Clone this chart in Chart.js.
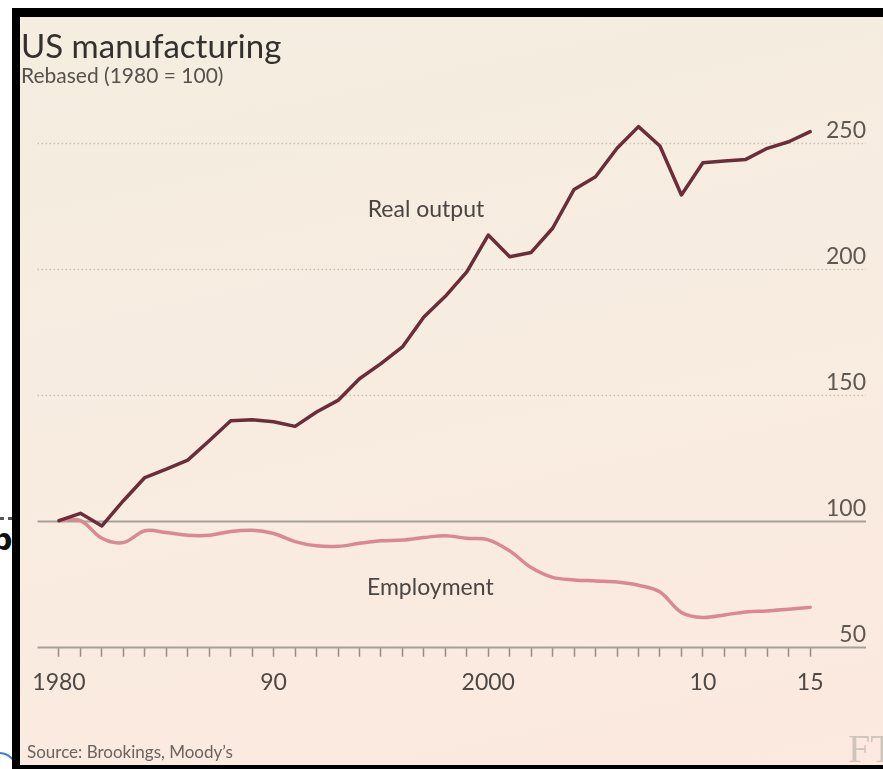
<!DOCTYPE html>
<html>
<head>
<meta charset="utf-8">
<title>US manufacturing</title>
<script src="https://cdn.jsdelivr.net/npm/chart.js@4.4.1/dist/chart.umd.min.js"></script>
<style>
  html, body { margin: 0; padding: 0; background: #fff; overflow: hidden; }
  body { width: 883px; height: 769px; position: relative; }
  #frame { position: absolute; left: 12px; top: 8px; width: 871px; height: 761px; background: #000; }
  #panel {
    position: absolute; left: 8px; top: 9px; width: 863px; height: 748px;
    background: linear-gradient(168deg, #f4ede0 0%, #f8ece1 50%, #fce9df 100%);
  }
  #chart { position: absolute; left: 0; top: 0; }
  /* bits of the page behind the frame */
  #behind { position: absolute; left: -9px; top: 522px; font: bold 30px 'DejaVu Sans', sans-serif; color: #111; }
  #dots { position: absolute; left: 0; top: 517px; width: 12px; border-top: 3px dotted #555; }
  #arc { position: absolute; left: -20px; top: 752px; width: 34px; height: 34px; border-radius: 50%; border: 2px solid #3d7fd6; }
</style>
</head>
<body>
<div id="dots"></div>
<div id="behind">b</div>
<div id="arc"></div>
<div id="frame">
  <div id="panel">
    <canvas id="chart" width="863" height="748"></canvas>
  </div>
</div>

<script>
// Years on the x axis
const years = [1980, 1981, 1982, 1983, 1984, 1985, 1986, 1987, 1988, 1989,
               1990, 1991, 1992, 1993, 1994, 1995, 1996, 1997, 1998, 1999,
               2000, 2001, 2002, 2003, 2004, 2005, 2006, 2007, 2008, 2009,
               2010, 2011, 2012, 2013, 2014, 2015];

// Index values, 1980 = 100
const realOutput = [100, 102.9, 97.9, 107.9, 117.1, 120.4, 124, 131.7, 139.6, 140,
                    139.2, 137.4, 143.1, 147.7, 156.3, 162.3, 168.9, 180.8, 189, 198.7,
                    213.3, 204.7, 206.4, 216, 231.4, 236.4, 247.7, 256.3, 248.6, 229.2,
                    242, 242.7, 243.3, 247.7, 250.3, 254.3];
const employment = [100, 100, 93, 91.3, 96, 95.3, 94.2, 94.2, 95.7, 96.2,
                    94.9, 91.7, 90, 89.8, 91, 92, 92.3, 93.3, 94, 93,
                    92.4, 88, 81.4, 77.5, 76.5, 76.1, 75.7, 74.4, 71.7, 63.6,
                    61.6, 62.6, 63.8, 64.2, 64.9, 65.6];

const seriesNames = ["Real output", "Employment"];

// Axis labels
const xTickYears = [1980, 1990, 2000, 2010, 2015];
const xTickLabels = ["1980", "90", "2000", "10", "15"];
const yTicks = [50, 100, 150, 200, 250];

const FONT = "Lato, 'Open Sans', sans-serif";

function toPoints(values) {
  return years.map((yr, i) => ({ x: yr, y: values[i] }));
}

// gridlines, value labels, series names and the header/footer text
const ftDecor = {
  id: "ftDecor",
  beforeDatasetsDraw(chart) {
    const { ctx, chartArea, scales } = chart;
    ctx.save();
    yTicks.forEach(v => {
      const y = Math.round(scales.y.getPixelForValue(v)) + 0.5;
      ctx.beginPath();
      if (v > 100) {
        ctx.setLineDash([1.5, 2.5]);
        ctx.lineWidth = 1.5;
        ctx.strokeStyle = "#c8bfb5";
      } else {
        ctx.setLineDash([]);
        ctx.lineWidth = 2;
        ctx.strokeStyle = "#a6a097";
      }
      ctx.moveTo(chartArea.left, y);
      ctx.lineTo(chartArea.right, y);
      ctx.stroke();

      ctx.font = "23px " + FONT;
      ctx.fillStyle = "#5e5853";
      ctx.textAlign = "right";
      ctx.textBaseline = "alphabetic";
      ctx.fillText(String(v), chartArea.right, y - 6);
    });
    ctx.restore();
  },
  afterDatasetsDraw(chart) {
    const { ctx, scales } = chart;
    ctx.save();
    ctx.font = "23px " + FONT;
    ctx.fillStyle = "#4a4542";
    ctx.textAlign = "center";
    ctx.textBaseline = "middle";
    ctx.fillText(seriesNames[0], scales.x.getPixelForValue(1997.1), scales.y.getPixelForValue(223.2));
    ctx.fillText(seriesNames[1], scales.x.getPixelForValue(1997.3), scales.y.getPixelForValue(73.6));

    ctx.textAlign = "left";
    ctx.textBaseline = "alphabetic";
    ctx.fillStyle = "#33302d";
    ctx.font = "33px " + FONT;
    ctx.fillText("US manufacturing", 1, 41);
    ctx.fillStyle = "#57514d";
    ctx.font = "21px " + FONT;
    ctx.fillText("Rebased (1980 = 100)", 1, 66);
    ctx.fillStyle = "#6a635e";
    ctx.font = "17px " + FONT;
    ctx.fillText("Source: Brookings, Moody\u2019s", 7, 741);

    ctx.fillStyle = "#cfc5bb";
    ctx.font = "40px 'Liberation Serif', serif";
    ctx.fillText("FT", 828, 745);
    ctx.restore();
  }
};

new Chart(document.getElementById("chart"), {
  type: "line",
  data: {
    datasets: [
      {
        label: seriesNames[0],
        data: toPoints(realOutput),
        borderColor: "#6b2d3a",
        borderWidth: 3.5,
        tension: 0,
        borderJoinStyle: "round",
        borderCapStyle: "round",
        pointRadius: 0
      },
      {
        label: seriesNames[1],
        data: toPoints(employment),
        borderColor: "#da8892",
        borderWidth: 3.5,
        tension: 0.35,
        borderCapStyle: "round",
        pointRadius: 0
      }
    ]
  },
  options: {
    responsive: false,
    animation: false,
    layout: { padding: { left: 12, right: 17, top: 100.3, bottom: 68.3 } },
    plugins: {
      legend: { display: false },
      tooltip: { enabled: false }
    },
    scales: {
      x: {
        type: "linear",
        min: 1979,
        max: 2017.6,
        afterBuildTicks: scale => {
          scale.ticks = years.map(v => ({ value: v }));
        },
        afterFit: scale => { scale.height = 50; },
        grid: {
          drawOnChartArea: false,
          tickLength: 10,
          tickWidth: 1.5,
          tickColor: "#948c85"
        },
        border: { display: false },
        ticks: {
          autoSkip: false,
          maxRotation: 0,
          padding: 12,
          color: "#4d4845",
          font: { family: FONT, size: 23 },
          callback: v => {
            const i = xTickYears.indexOf(v);
            return i >= 0 ? xTickLabels[i] : "";
          }
        }
      },
      y: {
        display: false,
        min: 50,
        max: 260
      }
    }
  },
  plugins: [ftDecor]
});
</script>
</body>
</html>
